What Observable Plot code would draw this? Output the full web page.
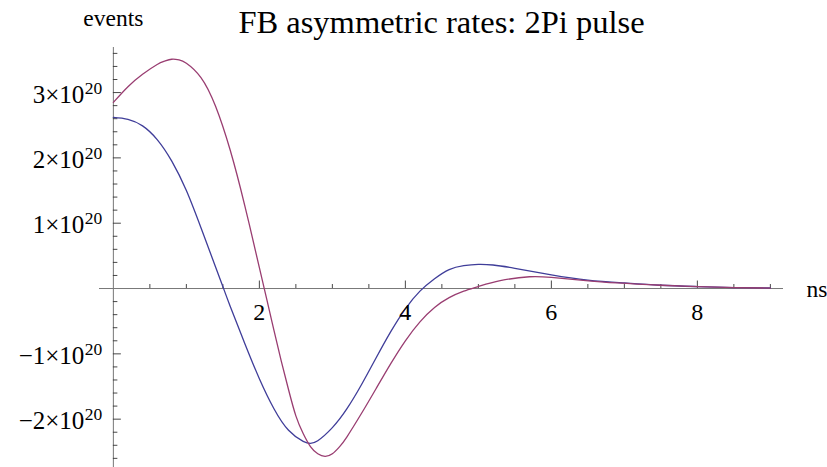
<!DOCTYPE html>
<html>
<head>
<meta charset="utf-8">
<script src="https://cdn.jsdelivr.net/npm/d3@7"></script>
<script src="https://cdn.jsdelivr.net/npm/@observablehq/plot@0.6"></script>
<style>
  html, body { margin: 0; padding: 0; background: #fff; }
</style>
</head>
<body>
<div id="chart"></div>
<script>
// Rates in units of 10^20 events, time in ns.
const title = "FB asymmetric rates: 2Pi pulse";
const xLabel = "ns";
const yLabel = "events";
const exponent = "20";

// first rate (blue)
const tBlue = [0, 0.2, 0.4, 0.6, 0.8, 1.0, 1.2, 1.4, 1.5, 1.6, 1.8, 2.0, 2.2, 2.4, 2.6, 2.7, 2.8, 3.0, 3.2, 3.4, 3.6, 3.8, 4.0, 4.2, 4.4, 4.6, 4.8, 5.0, 5.2, 5.5, 6.0, 6.5, 7.0, 7.5, 8.0, 8.5, 9.0];
const rateBlue = [2.62, 2.59, 2.49, 2.28, 1.95, 1.50, 0.93, 0.33, 0.03, -0.27, -0.84, -1.38, -1.84, -2.17, -2.34, -2.37, -2.33, -2.13, -1.84, -1.47, -1.06, -0.66, -0.31, -0.04, 0.15, 0.29, 0.35, 0.37, 0.36, 0.31, 0.21, 0.13, 0.085, 0.05, 0.03, 0.015, 0.008];

// second rate (purple)
const tPurple = [0, 0.2, 0.4, 0.6, 0.7, 0.8, 0.9, 1.0, 1.2, 1.4, 1.6, 1.8, 2.0, 2.1, 2.2, 2.3, 2.4, 2.5, 2.6, 2.7, 2.8, 2.9, 3.0, 3.1, 3.2, 3.4, 3.6, 3.8, 4.0, 4.2, 4.4, 4.6, 4.8, 5.0, 5.3, 5.7, 6.0, 6.4, 6.9, 7.5, 8.0, 8.5, 9.0];
const ratePurple = [2.85, 3.09, 3.28, 3.43, 3.48, 3.51, 3.50, 3.45, 3.23, 2.79, 2.12, 1.27, 0.32, -0.16, -0.64, -1.11, -1.55, -1.95, -2.22, -2.42, -2.53, -2.57, -2.53, -2.42, -2.27, -1.91, -1.53, -1.15, -0.80, -0.51, -0.29, -0.14, -0.04, 0.03, 0.12, 0.18, 0.17, 0.13, 0.085, 0.05, 0.03, 0.015, 0.007];

// axis ticks
const xMajor = [2, 4, 6, 8];
const xMinor = [0.5, 1, 1.5, 2.5, 3, 3.5, 4.5, 5, 5.5, 6.5, 7, 7.5, 8.5, 9];
const yMajor = [-2, -1, 1, 2, 3];
const yMinor = d3.range(-26, 37, 2).map(d => d / 10).filter(d => !Number.isInteger(d));

const blueColor = "#3f3d99";
const purpleColor = "#993d71";
const axisColor = "#777";
const tickColor = "#333";
const serif = "Liberation Serif";

const blueData = tBlue.map((t, i) => ({t, v: rateBlue[i]}));
const purpleData = tPurple.map((t, i) => ({t, v: ratePurple[i]}));

const mantissa = v => `${v < 0 ? "\u2212" : ""}${Math.abs(v)}\u00d710`;

const chart = Plot.plot({
  width: 827,
  height: 467,
  marginLeft: 99,
  marginRight: 44,
  marginTop: 47,
  marginBottom: 0,
  style: {background: "#fff", fontFamily: serif},
  x: {domain: [-0.19, 9.18], axis: null},
  y: {domain: [-2.74, 3.69], axis: null},
  marks: [
    // axes through the origin
    Plot.ruleY([0], {stroke: axisColor, strokeWidth: 1}),
    Plot.ruleX([0], {stroke: axisColor, strokeWidth: 1}),
    // x ticks, drawn upward from the axis
    Plot.ruleX(xMinor, {x: d => d, y1: 0, y2: 0, insetBottom: 4, stroke: tickColor, strokeWidth: 0.9}),
    Plot.ruleX(xMajor, {x: d => d, y1: 0, y2: 0, insetBottom: 7.5, stroke: tickColor, strokeWidth: 0.9}),
    // y ticks, drawn to the right of the axis
    Plot.ruleY(yMinor, {y: d => d, x1: 0, x2: 0, insetRight: -4.5, stroke: tickColor, strokeWidth: 0.9}),
    Plot.ruleY(yMajor, {y: d => d, x1: 0, x2: 0, insetRight: -8, stroke: tickColor, strokeWidth: 0.9}),
    // curves
    Plot.line(blueData, {x: "t", y: "v", stroke: blueColor, strokeWidth: 1.3, curve: "natural"}),
    Plot.line(purpleData, {x: "t", y: "v", stroke: purpleColor, strokeWidth: 1.3, curve: "natural"}),
    // x tick labels
    Plot.text(xMajor, {x: d => d, y: 0, text: d => String(d), dy: 31, lineAnchor: "bottom", textAnchor: "middle", fontFamily: serif, fontSize: 24, fill: "#000"}),
    // y tick labels: mantissa and superscript exponent
    Plot.text(yMajor, {x: 0, y: d => d, text: mantissa, dx: -29, dy: 10, lineAnchor: "bottom", textAnchor: "end", fontFamily: serif, fontSize: 25, fill: "#000"}),
    Plot.text(yMajor, {x: 0, y: d => d, text: () => exponent, dx: -11, dy: 1, lineAnchor: "bottom", textAnchor: "end", fontFamily: serif, fontSize: 17.5, fill: "#000"}),
    // axis labels
    Plot.text([yLabel], {x: 0, frameAnchor: "top", dy: -22, lineAnchor: "bottom", textAnchor: "middle", fontFamily: serif, fontSize: 23.5, fill: "#000"}),
    Plot.text([xLabel], {y: 0, frameAnchor: "right", dx: 23, dy: 8, lineAnchor: "bottom", textAnchor: "start", fontFamily: serif, fontSize: 23.5, fill: "#000"}),
    // title
    Plot.text([title], {frameAnchor: "top", dy: -15, lineAnchor: "bottom", textAnchor: "middle", fontFamily: serif, fontSize: 32.5, fill: "#000"})
  ]
});

document.getElementById("chart").appendChild(chart);
</script>
</body>
</html>
